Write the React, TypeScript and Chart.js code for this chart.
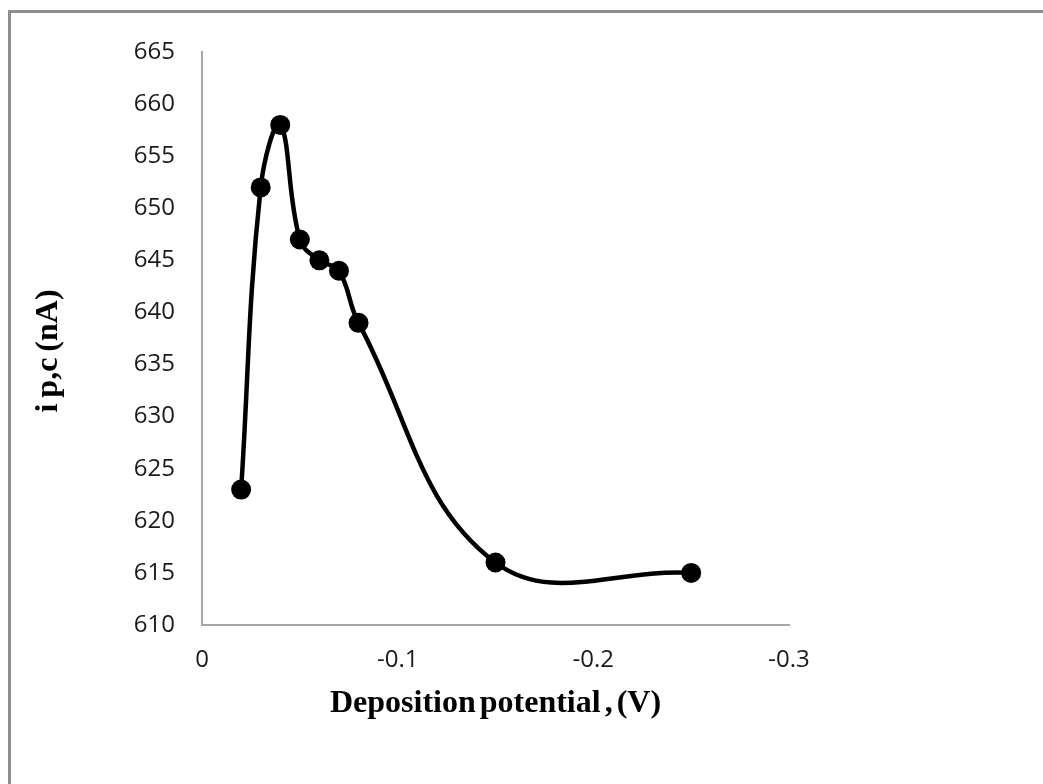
import React, { useEffect, useRef } from "react";
import { Chart, registerables } from "chart.js";

Chart.register(...registerables);

// Data
const potentials = [-0.02, -0.03, -0.04, -0.05, -0.06, -0.07, -0.08, -0.15, -0.25];
const currents = [623, 652, 658, 647, 645, 644, 639, 616, 615];
const xTickValues = [0, -0.1, -0.2, -0.3];
const yTickMin = 610;
const yTickMax = 665;
const yTickStep = 5;
const xTitle = "Deposition potential , (V)";
const yTitle = "i p,c (nA)";

const W = 1043;
const H = 784;

const titlePlugin = {
  id: "axisTitles",
  afterDraw(chart: any) {
    const { ctx, chartArea } = chart;
    ctx.save();
    ctx.fillStyle = "#000";
    ctx.font = 'bold 32px "Liberation Serif", "Times New Roman", serif';
    ctx.textAlign = "center";
    ctx.textBaseline = "alphabetic";
    try {
      (ctx as any).wordSpacing = "-4px";
    } catch (e) {}
    ctx.fillText(xTitle, (chartArea.left + chartArea.right) / 2, 712);
    try {
      (ctx as any).wordSpacing = "-2px";
    } catch (e) {}
    ctx.translate(57, 351);
    ctx.rotate(-Math.PI / 2);
    ctx.fillText(yTitle, 0, 0);
    ctx.restore();
  },
};

export default function App() {
  const canvasRef = useRef<HTMLCanvasElement | null>(null);

  useEffect(() => {
    const canvas = canvasRef.current;
    if (!canvas) return;
    const tickFont = { family: '"Open Sans", sans-serif', size: 24 };
    const chart = new Chart(canvas, {
      type: "line",
      data: {
        datasets: [
          {
            data: potentials.map((x, i) => ({ x, y: currents[i] })),
            borderColor: "#000",
            backgroundColor: "#000",
            borderWidth: 4.5,
            pointRadius: 10,
            pointHoverRadius: 10,
            pointBackgroundColor: "#000",
            pointBorderWidth: 0,
            tension: 0.4,
            fill: false,
          },
        ],
      },
      options: {
        animation: false,
        responsive: false,
        devicePixelRatio: 1,
        layout: { padding: { top: 52, right: 254, left: 0, bottom: 0 } },
        plugins: {
          legend: { display: false },
          tooltip: { enabled: false },
          title: { display: false },
        },
        scales: {
          x: {
            type: "linear",
            reverse: true,
            min: Math.min(...xTickValues),
            max: Math.max(...xTickValues),
            afterBuildTicks: (scale: any) => {
              scale.ticks = xTickValues.map((v) => ({ value: v }));
            },
            afterFit: (scale: any) => {
              scale.height = H - 625;
            },
            grid: { display: false, drawTicks: false },
            border: { display: true, color: "#a6a6a6", width: 2 },
            ticks: {
              font: tickFont,
              color: "#1a1a1a",
              padding: 21,
              maxRotation: 0,
              callback: (v: any) => String(Math.round(Number(v) * 10) / 10),
            },
          },
          y: {
            type: "linear",
            min: yTickMin,
            max: yTickMax,
            afterFit: (scale: any) => {
              scale.width = 202;
            },
            grid: { display: false, drawTicks: false },
            border: { display: true, color: "#a6a6a6", width: 2 },
            ticks: {
              stepSize: yTickStep,
              font: tickFont,
              color: "#1a1a1a",
              padding: 27,
            },
          },
        },
      },
      plugins: [titlePlugin],
    });
    return () => chart.destroy();
  }, []);

  return (
    <div
      style={{
        position: "absolute",
        left: 0,
        top: 0,
        width: W,
        height: H,
        background: "#fff",
        overflow: "hidden",
      }}
    >
      <canvas ref={canvasRef} width={W} height={H} style={{ display: "block" }} />
      <div
        style={{
          position: "absolute",
          left: 8,
          top: 10,
          width: W,
          height: H,
          borderTop: "3px solid #8f8f8f",
          borderLeft: "3px solid #8f8f8f",
          pointerEvents: "none",
        }}
      />
    </div>
  );
}
